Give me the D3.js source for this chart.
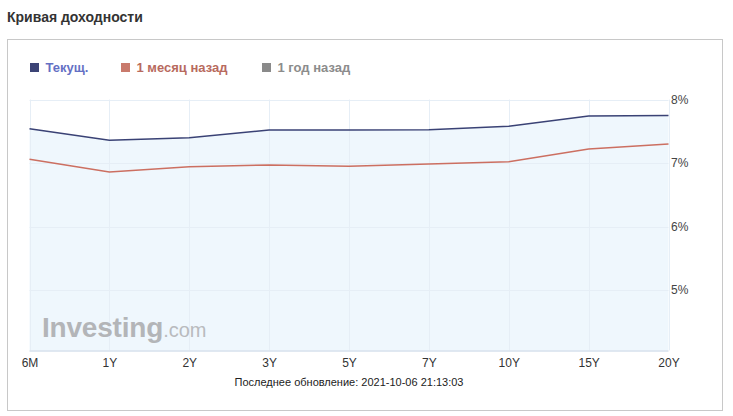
<!DOCTYPE html>
<html><head><meta charset="utf-8">
<script src="https://cdnjs.cloudflare.com/ajax/libs/d3/7.8.5/d3.min.js"></script>
<style>
html,body{margin:0;padding:0;background:#fff;}
svg{display:block;font-family:Arial,"Liberation Sans",sans-serif;}
</style></head>
<body>
<svg id="chart" width="733" height="416"></svg>
<script>
const categories = ["6M","1Y","2Y","3Y","5Y","7Y","10Y","15Y","20Y"];
const current = [7.54, 7.36, 7.40, 7.52, 7.52, 7.525, 7.58, 7.74, 7.75];
const monthAgo = [7.06, 6.86, 6.94, 6.97, 6.95, 6.985, 7.02, 7.22, 7.30];
const yTicks = [5, 6, 7, 8];
const legendItems = [
  {name:"Текущ.", swatch:"#3c4476", text:"#6470c4"},
  {name:"1 месяц назад", swatch:"#c97a6c", text:"#b86a5e"},
  {name:"1 год назад", swatch:"#8a8a8a", text:"#8c8c8c"}
];
const title = "Кривая доходности";
const footer = "Последнее обновление: 2021-10-06 21:13:03";

const svg = d3.select("#chart");
const L = 29.5, R = 668.5, T = 99.5, B = 350.5;

svg.append("text").attr("x",7).attr("y",22).attr("font-size",14).attr("font-weight","bold")
  .attr("fill","#333").text(title);

svg.append("rect").attr("x",7.5).attr("y",39.5).attr("width",715).attr("height",371)
  .attr("fill","#fff").attr("stroke","#c8c8c8").attr("stroke-width",1);

// legend
const lx = [30, 121, 262];
legendItems.forEach((d,i)=>{
  svg.append("rect").attr("x",lx[i]).attr("y",63).attr("width",9).attr("height",9).attr("fill",d.swatch);
  svg.append("text").attr("x",lx[i]+15.5).attr("y",72).attr("font-size",13).attr("font-weight","bold")
    .attr("fill",d.text).text(d.name);
});

const x = d3.scalePoint().domain(categories).range([L,R]);
const y = d3.scaleLinear().domain([4.05, 8]).range([B,T]);

// area under current
const area = d3.area().x((d,i)=>x(categories[i])).y0(B).y1(d=>y(d));
svg.append("path").datum(current).attr("d",area).attr("fill","#eff7fd");

// grid
const g = svg.append("g");
g.selectAll(".vg").data(categories).join("line")
  .attr("x1",d=>Math.round(x(d))+0.5).attr("x2",d=>Math.round(x(d))+0.5)
  .attr("y1",T).attr("y2",B).attr("stroke","#e6eef6").attr("stroke-width",1);
g.selectAll(".hg").data(yTicks).join("line")
  .attr("x1",L).attr("x2",R)
  .attr("y1",d=>Math.round(y(d))+0.5).attr("y2",d=>Math.round(y(d))+0.5)
  .attr("stroke","#e6eef6").attr("stroke-width",1);
svg.append("line").attr("x1",L).attr("x2",R).attr("y1",B+0.5).attr("y2",B+0.5)
  .attr("stroke","#d6e1ec").attr("stroke-width",1.5);

// watermark
const wm = svg.append("text").attr("x",42).attr("y",337).attr("fill","#b3b5b8");
wm.append("tspan").attr("font-size",28).attr("font-weight","bold").attr("letter-spacing",-0.2).text("Investing");
wm.append("tspan").attr("font-size",20).attr("fill","#b9bbbe").text(".com");

// lines
const line = d3.line().x((d,i)=>x(categories[i])).y(d=>y(d));
svg.append("path").datum(monthAgo).attr("d",line).attr("fill","none")
  .attr("stroke","#cc6f61").attr("stroke-width",1.5);
svg.append("path").datum(current).attr("d",line).attr("fill","none")
  .attr("stroke","#3a4275").attr("stroke-width",1.5);

// x axis labels
const xAxis = d3.axisBottom(x).tickSize(0).tickPadding(8);
const xa = svg.append("g").attr("transform",`translate(0,${B})`).call(xAxis);
xa.select(".domain").remove();
xa.selectAll("text").attr("font-size",12).attr("fill","#333").attr("font-family","Arial,'Liberation Sans',sans-serif");

// y axis labels
const yAxis = d3.axisRight(y).tickValues(yTicks).tickSize(0).tickPadding(3).tickFormat(d=>d+"%");
const ya = svg.append("g").attr("transform",`translate(${R-0.5},0)`).call(yAxis);
ya.select(".domain").remove();
ya.selectAll("text").attr("font-size",12).attr("fill","#444").attr("font-family","Arial,'Liberation Sans',sans-serif");

svg.append("text").attr("x",(L+R)/2).attr("y",386).attr("text-anchor","middle")
  .attr("font-size",11).attr("fill","#222").text(footer);
</script>
</body></html>
